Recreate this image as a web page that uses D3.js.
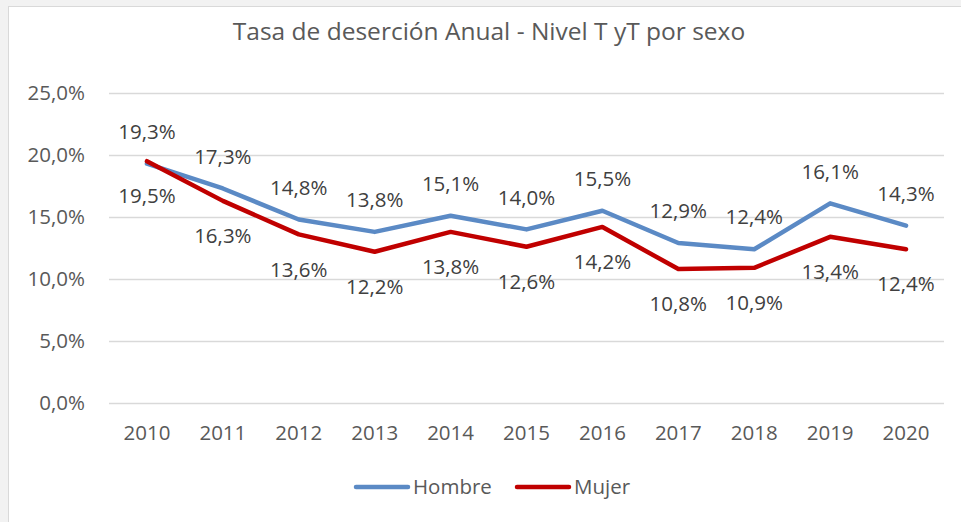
<!DOCTYPE html>
<html>
<head>
<meta charset="utf-8">
<script src="https://cdn.jsdelivr.net/npm/d3@7"></script>
<style>
  body { margin: 0; background: #f2f2f2; }
  svg { display: block; }
</style>
</head>
<body>
<div id="chart"></div>
<script>
const years = ["2010", "2011", "2012", "2013", "2014", "2015", "2016", "2017", "2018", "2019", "2020"];
const hombre = [19.3, 17.3, 14.8, 13.8, 15.1, 14.0, 15.5, 12.9, 12.4, 16.1, 14.3];
const mujer = [19.5, 16.3, 13.6, 12.2, 13.8, 12.6, 14.2, 10.8, 10.9, 13.4, 12.4];
const yTicks = [0, 5, 10, 15, 20, 25];

const width = 961, height = 522;
const font = "'Open Sans', sans-serif";
const fs = "20.5px";
const fmt = v => v.toFixed(1).replace(".", ",") + "%";

const svg = d3.select("#chart").append("svg")
    .attr("width", width)
    .attr("height", height);

// chart box
svg.append("rect")
    .attr("x", 8.5).attr("y", 6.5)
    .attr("width", width - 8).attr("height", height)
    .attr("fill", "#fff")
    .attr("stroke", "#d9d9d9");

svg.append("text")
    .attr("x", 489).attr("y", 40)
    .attr("text-anchor", "middle")
    .style("font-family", font)
    .style("font-size", "24.5px")
    .attr("fill", "#595959")
    .text("Tasa de deserción Anual - Nivel T yT por sexo");

const x = d3.scaleBand().domain(years).range([109, 944]);
const y = d3.scaleLinear().domain([0, 25]).range([403, 93]);

// gridlines
svg.append("g")
    .attr("transform", "translate(109,0)")
    .call(d3.axisLeft(y).tickValues(yTicks).tickSize(-835).tickFormat(""))
    .call(g => g.select(".domain").remove())
    .selectAll("line").attr("stroke", "#d9d9d9").attr("stroke-width", 1.5);

// y labels
svg.append("g")
    .attr("transform", "translate(109,0)")
    .call(d3.axisLeft(y).tickValues(yTicks).tickSize(0).tickPadding(24).tickFormat(fmt))
    .call(g => g.select(".domain").remove())
    .selectAll("text")
    .style("font-family", font)
    .style("font-size", fs)
    .attr("fill", "#595959");

// x labels
svg.append("g")
    .attr("transform", "translate(0,403)")
    .call(d3.axisBottom(x).tickSize(0).tickPadding(22))
    .call(g => g.select(".domain").remove())
    .selectAll("text")
    .style("font-family", font)
    .style("font-size", fs)
    .attr("fill", "#595959");

const cx = d => x(d) + x.bandwidth() / 2;
const line = d3.line().x((d, i) => cx(years[i])).y(d => y(d));

const series = [
    { name: "Hombre", values: hombre, colour: "#5b8ac5", dy: -32 },
    { name: "Mujer", values: mujer, colour: "#c00000", dy: 35 }
];

series.forEach(s => {
    svg.append("path")
        .datum(s.values)
        .attr("fill", "none")
        .attr("stroke", s.colour)
        .attr("stroke-width", 4.5)
        .attr("stroke-linecap", "round")
        .attr("stroke-linejoin", "round")
        .attr("d", line);
});

series.forEach(s => {
    svg.append("g")
        .selectAll("text")
        .data(s.values)
        .enter()
        .append("text")
        .attr("x", (d, i) => cx(years[i]))
        .attr("y", d => y(d) + s.dy)
        .attr("dy", "0.35em")
        .attr("text-anchor", "middle")
        .style("font-family", font)
        .style("font-size", fs)
        .attr("fill", "#404040")
        .text(fmt);
});

// legend
const legend = svg.append("g");
const legendX = [354, 515];
series.forEach((s, i) => {
    legend.append("line")
        .attr("x1", legendX[i] + 2).attr("x2", legendX[i] + 54)
        .attr("y1", 487).attr("y2", 487)
        .attr("stroke", s.colour)
        .attr("stroke-width", 4.5)
        .attr("stroke-linecap", "round");
    legend.append("text")
        .attr("x", legendX[i] + 59).attr("y", 487)
        .attr("dy", "0.35em")
        .style("font-family", font)
        .style("font-size", fs)
        .attr("fill", "#595959")
        .text(s.name);
});
</script>
</body>
</html>
